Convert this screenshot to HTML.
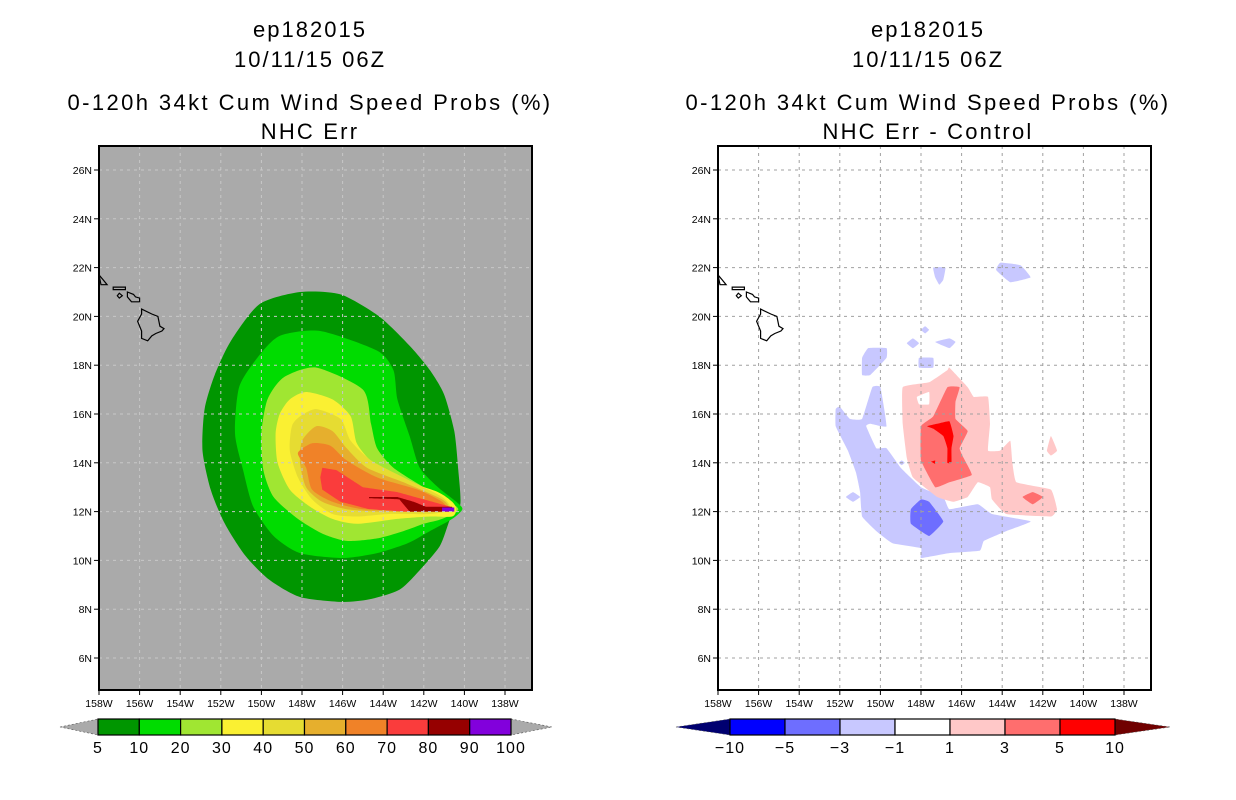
<!DOCTYPE html>
<html><head><meta charset="utf-8"><style>
body{margin:0;background:#fff;width:1236px;height:800px;overflow:hidden}
svg{display:block;font-family:"Liberation Sans",sans-serif}
</style></head><body>
<svg id="s" width="1236" height="800"></svg>
<script>
// ---- data ----
const lonTicks=[158,156,154,152,150,148,146,144,142,140,138];
const latTicks=[26,24,22,20,18,16,14,12,10,8,6];
const leftLevels=["5","10","20","30","40","50","60","70","80","90","100"];
const leftColors=["#009600","#00dc00","#a0e632","#faf032","#e6dc32","#e6af2d","#f08228","#fa3c3c","#960000","#8200dc"];
const rightLevels=["-10","-5","-3","-1","1","3","5","10"];
const rightColors=["#0000ff","#6e6eff","#c8c8ff","#ffffff","#ffc8c8","#ff6e6e","#ff0000"];
// contour polygons in [lonW, latN]
const c5=[[148.1,21.0],[146.1,20.9],[144.2,20.0],[142.7,18.8],[141.7,17.8],[141.0,16.8],[140.5,15.3],[140.3,13.7],[140.2,12.3],[140.7,11.7],[141.2,10.6],[142.2,9.6],[143.2,8.8],[144.7,8.4],[146.1,8.3],[148.1,8.5],[149.6,9.2],[150.8,10.2],[151.8,11.5],[152.5,12.9],[152.9,14.5],[152.8,16.2],[152.3,17.6],[151.5,19.0],[150.1,20.5]];
const c10=[[147.1,19.4],[144.3,18.6],[143.5,17.8],[143.3,16.6],[142.7,15.1],[142.2,13.8],[141.3,13.0],[140.4,12.4],[140.1,12.1],[140.6,11.7],[141.7,11.2],[142.8,10.7],[144.3,10.3],[146.0,10.1],[148.1,10.3],[149.4,11.0],[150.4,12.2],[150.9,13.7],[151.3,15.2],[151.1,17.1],[150.2,18.3],[149.1,19.2]];
const c20=[[147.3,17.9],[145.0,17.0],[144.6,15.6],[144.3,14.6],[143.5,13.8],[142.0,13.0],[141.1,12.6],[140.3,12.1],[141.1,11.7],[142.0,11.5],[143.0,11.2],[144.3,10.9],[145.8,10.8],[147.0,11.1],[148.2,11.7],[149.4,12.6],[149.9,13.7],[150.0,15.2],[149.7,16.6],[148.9,17.5]];
const c30=[[147.8,16.9],[146.5,16.6],[145.6,15.9],[145.3,14.8],[144.5,14.0],[143.0,13.3],[141.3,12.8],[140.6,12.4],[140.4,12.1],[140.6,11.8],[141.7,11.8],[143.3,11.7],[145.3,11.5],[146.5,11.7],[147.6,12.2],[148.6,12.9],[149.2,14.0],[149.3,15.2],[149.1,16.0],[148.6,16.6]];
const c40=[[147.3,16.2],[146.1,15.8],[145.6,14.9],[144.6,14.1],[143.0,13.4],[141.1,12.6],[140.7,12.1],[141.7,11.9],[143.7,11.9],[145.3,11.8],[146.5,11.9],[147.5,12.5],[148.2,13.4],[148.6,14.5],[148.5,15.5],[148.1,15.9]];
const c50=[[147.3,15.5],[146.5,15.3],[145.8,14.6],[144.8,13.8],[143.0,13.2],[141.1,12.5],[140.8,12.1],[142.0,12.0],[144.0,12.0],[145.8,12.1],[147.0,12.4],[147.8,13.0],[148.1,14.0],[148.0,14.9]];
const c60=[[147.5,14.8],[146.6,14.7],[145.8,14.1],[144.3,13.4],[142.3,12.9],[141.1,12.4],[140.9,12.0],[142.8,12.1],[145.0,12.1],[146.5,12.4],[147.5,12.9],[147.8,13.8],[148.2,14.4]];
const c70=[[147.0,13.8],[146.3,13.7],[145.0,13.0],[143.3,12.8],[142.0,12.5],[140.7,12.2],[140.7,12.0],[143.0,12.0],[144.7,12.1],[146.1,12.4],[147.0,12.9],[147.1,13.4]];
const c80=[[144.7,12.6],[143.3,12.6],[142.5,12.4],[141.9,12.2],[140.6,12.2],[140.6,12.0],[142.7,12.0],[143.2,12.5],[144.7,12.55]];
const c90=[[141.1,12.17],[140.5,12.17],[140.5,12.0],[141.1,12.0]];
const leftContours=[c5,c10,c20,c30,c40,c50,c60,c70,c80,c90];
// difference panel
const blueMain=[[152.2,16.2],[152.0,16.3],[151.5,15.8],[150.9,15.8],[150.4,17.1],[150.0,17.1],[149.7,15.5],[150.5,15.6],[150.7,15.5],[150.2,14.6],[149.7,14.6],[149.0,13.8],[148.0,13.0],[146.9,12.6],[146.6,12.1],[145.2,12.3],[144.5,11.9],[142.6,11.6],[143.8,11.2],[144.9,10.8],[145.1,10.4],[146.6,10.3],[148.0,10.1],[148.0,10.5],[149.4,10.7],[150.2,11.2],[150.9,11.8],[151.0,12.8],[151.2,13.6],[151.6,14.5],[152.2,15.5]];
const blueA=[[150.6,18.7],[149.7,18.7],[149.7,18.3],[150.5,17.6],[150.9,17.6],[150.9,18.3]];
const blueB=[[147.4,22.0],[146.8,22.0],[146.9,21.5],[147.1,21.3],[147.3,21.6]];
const blueC=[[144.1,22.2],[143.1,22.1],[142.6,21.6],[143.6,21.4],[144.3,21.9]];
const blueD=[[148.1,18.3],[147.4,18.3],[147.4,17.9],[148.1,17.9]];
const blueE=[[148.4,19.1],[148.1,18.9],[148.4,18.7],[148.7,18.9]];
const blueF=[[147.8,19.6],[147.6,19.45],[147.8,19.3],[148.0,19.45]];
const blueG=[[147.3,18.95],[146.6,19.1],[146.3,18.95],[146.6,18.7]];
const blueH=[[151.7,12.6],[151.35,12.8],[151.0,12.6],[151.35,12.4]];
const blueI=[[149.1,14.0],[148.95,14.1],[148.8,14.0],[148.95,13.9]];
const blueDark=[[148.5,12.1],[148.0,12.5],[147.6,12.4],[146.9,11.6],[147.6,11.0],[148.5,11.5]];
const pinkMain=[[148.9,17.1],[147.6,17.3],[146.7,17.8],[146.6,17.9],[145.7,17.1],[145.4,16.7],[144.7,16.7],[144.6,15.6],[144.7,14.5],[144.1,14.5],[143.6,14.9],[143.5,14.0],[143.3,13.2],[141.6,12.9],[141.3,12.1],[141.6,11.8],[143.8,11.9],[144.5,12.5],[144.6,13.0],[145.2,13.2],[145.7,12.6],[146.4,12.4],[147.2,12.6],[148.4,13.4],[148.7,14.2],[148.9,15.6]];
const pinkHole=[[148.2,16.7],[147.6,16.9],[147.6,16.4],[148.1,16.4]];
const pinkB=[[141.6,15.1],[141.3,14.5],[141.6,14.3],[141.8,14.5]];
const redMid=[[148.0,15.5],[147.4,15.9],[146.7,17.1],[146.1,17.1],[146.3,16.5],[146.3,15.8],[145.7,15.3],[146.1,14.6],[145.9,14.2],[145.5,13.5],[146.6,13.2],[147.3,13.0],[148.0,14.1]];
const redMidB=[[143.0,12.6],[142.5,12.8],[142.0,12.6],[142.5,12.3]];
const redHi=[[147.7,15.5],[147.2,15.6],[146.6,15.7],[146.4,15.1],[146.5,14.6],[146.5,14.0],[146.7,14.0],[146.7,14.6],[146.9,15.1],[147.4,15.4]];
const redHiB=[[147.5,14.05],[147.3,14.1],[147.3,13.95]];
// Hawaii coastline
const bigIsland=[[155.9,20.3],[155.4,20.1],[155.1,20.0],[155.0,19.6],[154.8,19.5],[154.9,19.4],[155.2,19.3],[155.4,19.2],[155.6,19.0],[155.9,19.1],[155.9,19.4],[156.1,19.8],[155.9,20.1]];
const maui=[[156.6,21.0],[156.3,20.9],[156.2,20.8],[156.0,20.75],[156.0,20.6],[156.4,20.6],[156.6,20.8]];
const molokai=[[157.3,21.2],[156.7,21.2],[156.7,21.1],[157.3,21.1]];
const lanai=[[157.0,20.95],[156.85,20.85],[157.0,20.75],[157.1,20.85]];
const oahu=[[158.0,21.7],[157.8,21.5],[157.6,21.3],[157.9,21.3]];
const islands=[bigIsland,maui,molokai,lanai,oahu];

// ---- drawing ----
const NS="http://www.w3.org/2000/svg";
const svg=document.getElementById('s');
function el(t,a,p){const e=document.createElementNS(NS,t);for(const k in a)e.setAttribute(k,a[k]);(p||svg).appendChild(e);return e;}
const X0=[99,718], PY=[146,690], PX1=[532,1151];
function xs(p,lon){return X0[p]+(158-lon)*20.3;}
function ys(lat){return 170+(26-lat)*24.4;}
function pts(p,poly){return poly.map(q=>xs(p,q[0]).toFixed(1)+','+ys(q[1]).toFixed(1)).join(' ');}
function smoothPath(p,data,t){
  const P=data.map(q=>[xs(p,q[0]),ys(q[1])]);const n=P.length;
  let d='M'+P[0][0].toFixed(1)+','+P[0][1].toFixed(1);
  for(let i=0;i<n;i++){const p0=P[(i-1+n)%n],p1=P[i],p2=P[(i+1)%n],p3=P[(i+2)%n];
    const c1=[p1[0]+(p2[0]-p0[0])*t,p1[1]+(p2[1]-p0[1])*t],c2=[p2[0]-(p3[0]-p1[0])*t,p2[1]-(p3[1]-p1[1])*t];
    d+=' C'+c1[0].toFixed(1)+','+c1[1].toFixed(1)+' '+c2[0].toFixed(1)+','+c2[1].toFixed(1)+' '+p2[0].toFixed(1)+','+p2[1].toFixed(1);}
  return d+'Z';}
function poly(p,data,fill,name,g,t){const e=el('path',{d:smoothPath(p,data,t===undefined?0.12:t),fill:fill},g);

return e;}
function text(x,y,s,size,anchor,name,g,ls){const t=el('text',{x:x,y:y,'font-size':size,'text-anchor':anchor||'middle',fill:'#000'},g);if(ls)t.setAttribute('letter-spacing',ls);t.textContent=s;

return t;}

const titles=[["ep182015","10/11/15 06Z","0-120h 34kt Cum Wind Speed Probs (%)","NHC Err"],
              ["ep182015","10/11/15 06Z","0-120h 34kt Cum Wind Speed Probs (%)","NHC Err - Control"]];
const cx=[310,928];
for(let p=0;p<2;p++){
  const g=el('g',{});
  
  
  text(cx[p],37,titles[p][0],22,'middle','storm-id-title',g,'2');
  text(cx[p],67,titles[p][1],22,'middle','date-title',g,'2');
  text(cx[p],110,titles[p][2],22,'middle','product-title',g,'2.4');
  text(cx[p],139,titles[p][3],22,'middle','subtitle',g,'2.2');
  const W=PX1[p]-X0[p], H=PY[1]-PY[0];
  const cp=el('clipPath',{id:'cp'+p},g);el('rect',{x:X0[p],y:PY[0],width:W,height:H},cp);
  const bg=el('rect',{x:X0[p],y:PY[0],width:W,height:H,fill:p?'#fff':'#aaaaaa'},g);
  
  
  const m=el('g',{'clip-path':'url(#cp'+p+')'},g);
  if(p===0){leftContours.forEach((c,i)=>poly(0,c,leftColors[i],'contour-'+leftLevels[i],m,i>=7?0:0.12));}
  else{
    [blueMain,blueA,blueB,blueC,blueD,blueE,blueF,blueG,blueH,blueI].forEach(c=>poly(1,c,'#c8c8ff','contour-neg1',m,0.05));
    poly(1,blueDark,'#6e6eff','contour-neg3',m,0.05);
    poly(1,pinkMain,'#ffc8c8','contour-pos1',m,0.05);
    poly(1,pinkHole,'#ffffff','contour-hole',m,0.05);
    poly(1,pinkB,'#ffc8c8','contour-pos1',m,0.05);
    poly(1,redMid,'#ff6e6e','contour-pos3',m,0.05);
    poly(1,redMidB,'#ff6e6e','contour-pos3',m,0.05);
    poly(1,redHi,'#ff0000','contour-pos5',m,0.05);
    poly(1,redHiB,'#ff0000','contour-pos5',m,0);
  }
  // grid
  const gc=p?'#a0a0a0':'#c8c8c8';
  lonTicks.forEach(l=>{const x=xs(p,l);const ln=el('line',{x1:x,x2:x,y1:PY[0],y2:PY[1],stroke:gc,'stroke-width':1,'stroke-dasharray':'3,4'},m);
    
    });
  latTicks.forEach(l=>{const y=ys(l);const ln=el('line',{x1:X0[p],x2:PX1[p],y1:y,y2:y,stroke:gc,'stroke-width':1,'stroke-dasharray':'3,4'},m);
    
    });
  islands.forEach(c=>{const e=el('polygon',{points:pts(p,c),fill:'none',stroke:'#000','stroke-width':1.2},m);
    
    });
  const fr=el('rect',{x:X0[p],y:PY[0],width:W,height:H,fill:'none',stroke:'#000','stroke-width':2},g);
  
  
  lonTicks.forEach(l=>{const x=xs(p,l);el('line',{x1:x,x2:x,y1:PY[1],y2:PY[1]+5,stroke:'#000'},g);
    text(x,707,l+'W',10.5,'middle','lon-tick-label',g);});
  latTicks.forEach(l=>{const y=ys(l);el('line',{x1:X0[p]-5,x2:X0[p],y1:y,y2:y,stroke:'#000'},g);
    text(X0[p]-7,y+4,l+'N',10.5,'end','lat-tick-label',g);});
}
// colorbars
function colorbar(x0,x1,colors,labels,lt,rt,lc,rc,name){
  const g=el('g',{});
  
  
  const w=(x1-x0)/colors.length, y0=719,y1=735,ym=727;
  const a=el('polygon',{points:`${lt},${ym} ${x0},${y0} ${x0},${y1}`,fill:lc,stroke:'#555','stroke-width':0.6,'stroke-dasharray':'2,2'},g);
  
  
  const b=el('polygon',{points:`${rt},${ym} ${x1},${y0} ${x1},${y1}`,fill:rc,stroke:'#555','stroke-width':0.6,'stroke-dasharray':'2,2'},g);
  
  
  colors.forEach((c,i)=>{const r=el('rect',{x:x0+i*w,y:y0,width:w,height:y1-y0,fill:c,stroke:'#000','stroke-width':1.2},g);
    
    });
  labels.forEach((s,i)=>text(x0+i*w,753,s.replace('-','\u2212'),16,'middle','colorbar-label',g,'1'));
}
colorbar(98,511,leftColors,leftLevels,60,552,'#aaaaaa','#aaaaaa','probability-colorbar');
colorbar(730,1115,rightColors,rightLevels,676,1170,'#000070','#700000','difference-colorbar');
</script>
</body></html>
